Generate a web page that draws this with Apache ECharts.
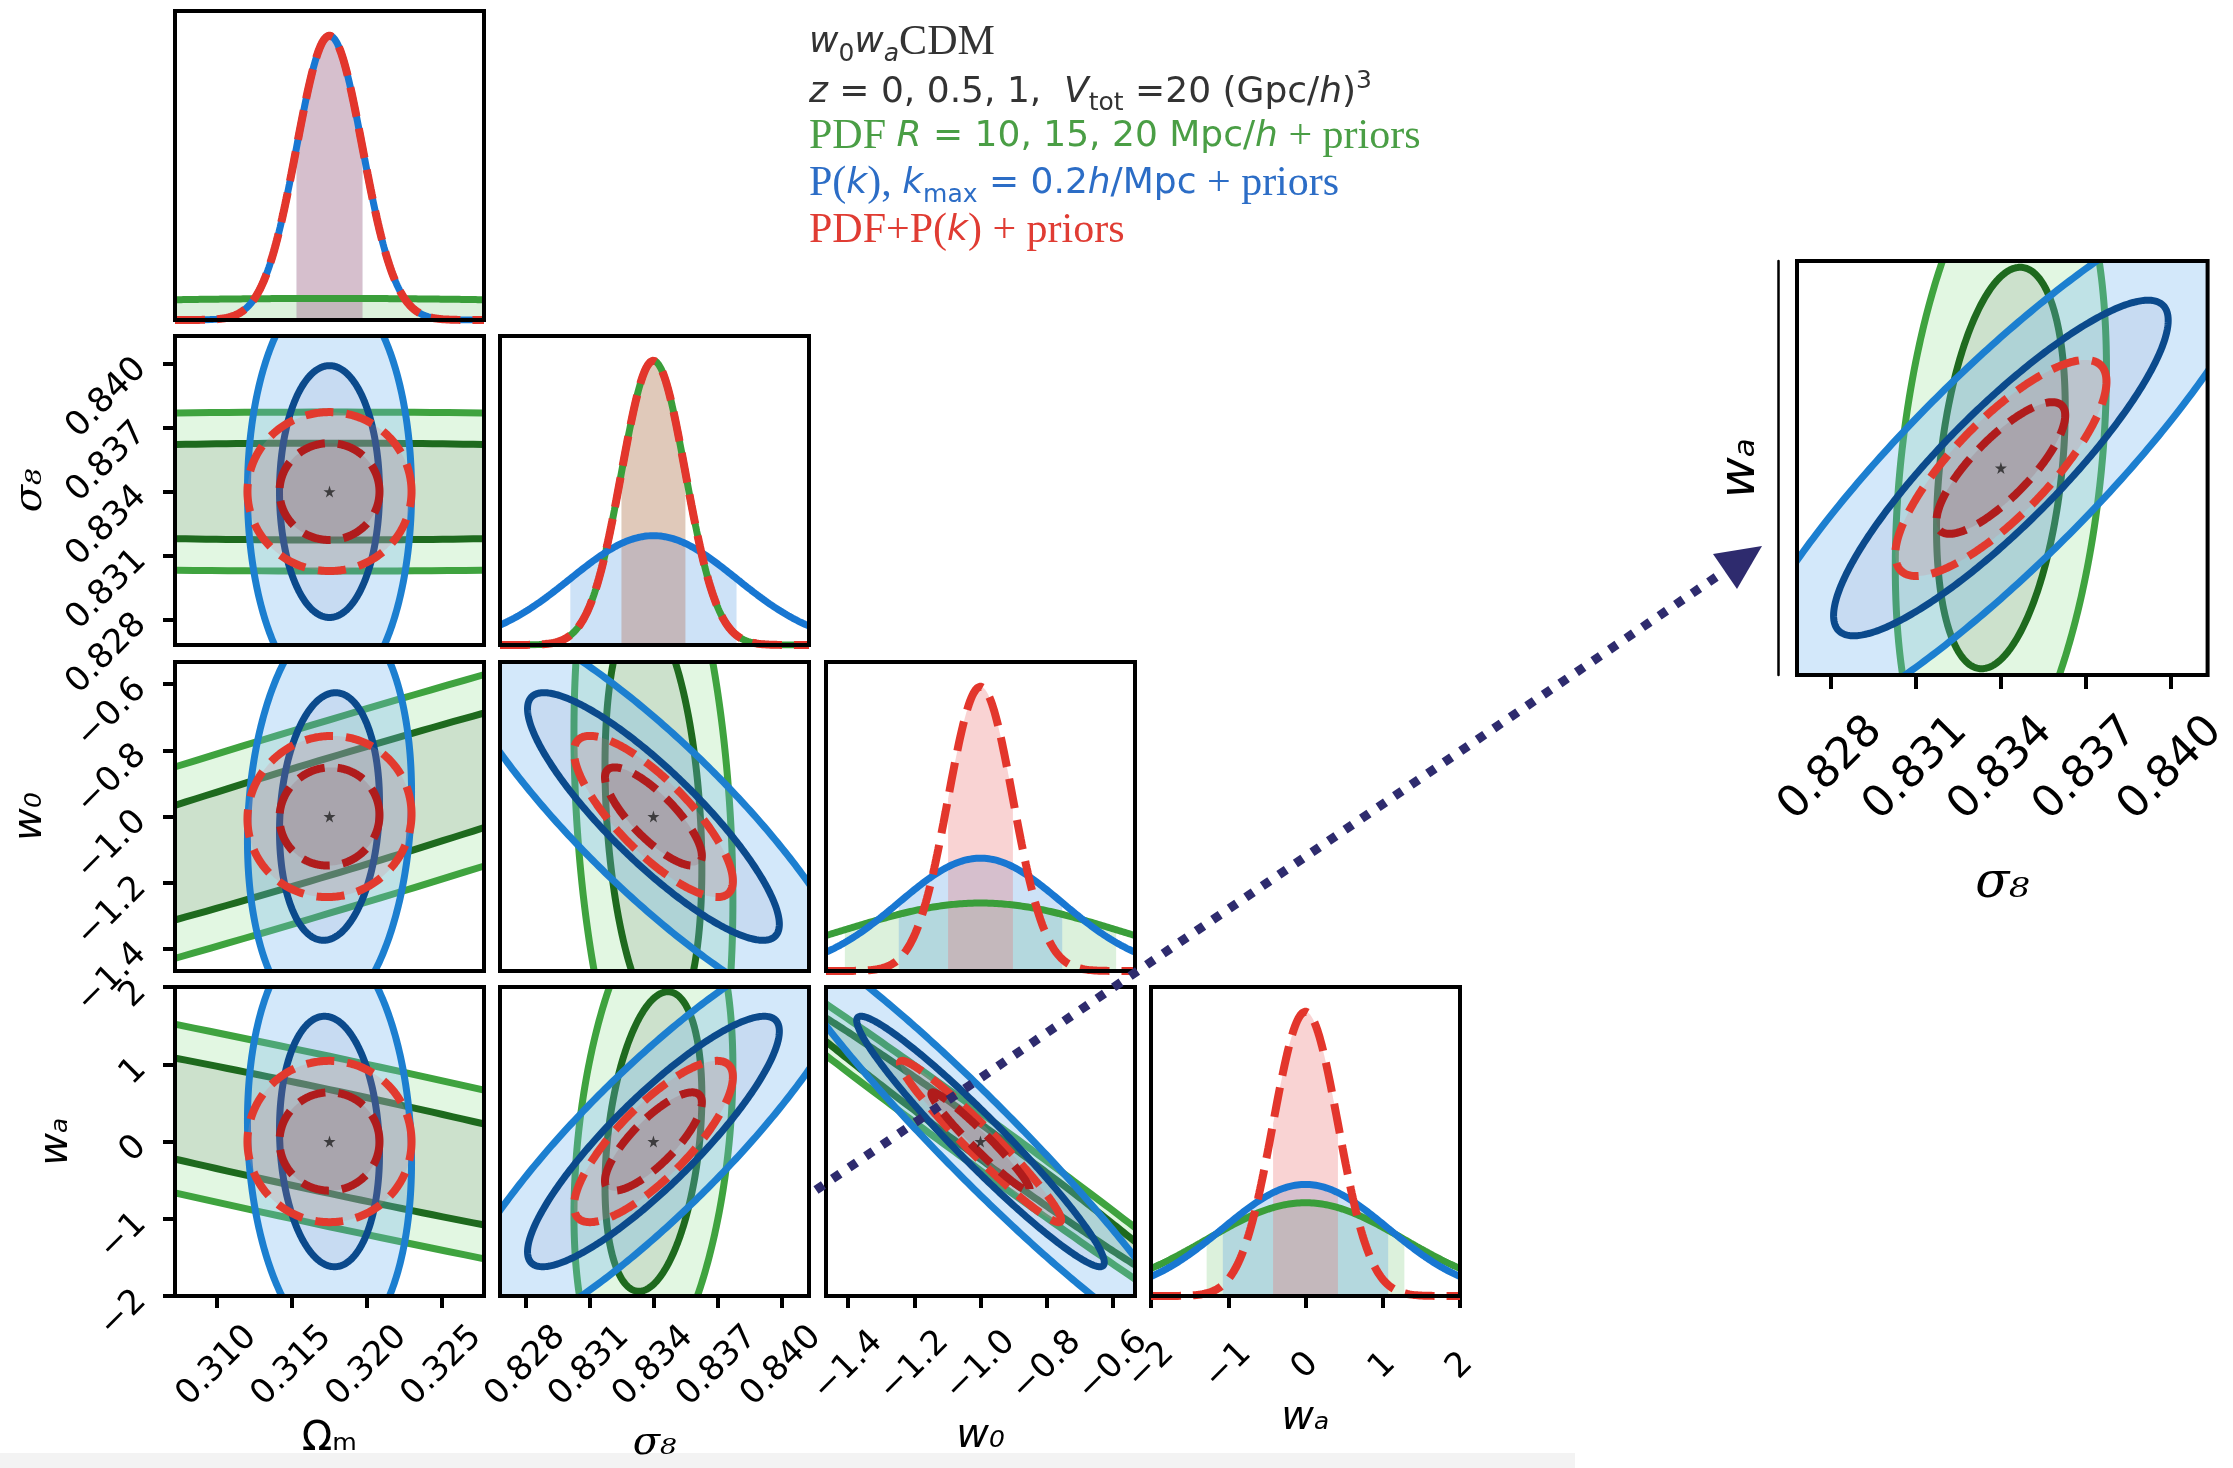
<!DOCTYPE html>
<html><head><meta charset="utf-8">
<script src="https://cdn.jsdelivr.net/npm/echarts@6.0.0/dist/echarts.min.js"></script>
<style>html,body{margin:0;padding:0;background:#fff;}#chart{width:2233px;height:1468px;}</style>
</head><body><div id="chart"></div>
<script>
// ---------------- values ----------------
const paramNames = ['Ωₘ', 'σ₈', 'w₀', 'wₐ'];
const fiducial = [0.3175, 0.834, -1.0, 0.0];
const axisMin = [0.3072, 0.8268, -1.467, -2.0];
const axisMax = [0.3278, 0.8413, -0.533, 2.0];
const ticksOmegaM = [0.310, 0.315, 0.320, 0.325];
const ticksSigma8 = [0.828, 0.831, 0.834, 0.837, 0.840];
const ticksW0 = [-1.4, -1.2, -1.0, -0.8, -0.6];
const ticksWa = [-2, -1, 0, 1, 2];
const tickDecimals = [3, 3, 1, 0];
// marginal 1-sigma errors (Ωm, σ8, w0, wa)
const sigmaPDF  = [0.029, 0.0015, 0.41, 1.28];
const sigmaPk   = [0.0022, 0.0039, 0.247, 1.07];
const sigmaComb = [0.0022, 0.0015, 0.098, 0.42];
// correlations for pairs (Ωm,σ8) (Ωm,w0) (Ωm,wa) (σ8,w0) (σ8,wa) (w0,wa)
const corrPDF  = [0.00, 0.958, -0.938, -0.25, 0.30, -0.993];
const corrPk   = [0.00, 0.12, -0.10, -0.87, 0.88, -0.965];
const corrComb = [0.00, 0.03, 0.00, -0.80, 0.80, -0.97];
const pairs = [[0,1],[0,2],[0,3],[1,2],[1,3],[2,3]];
const contourChi = [2.486, 1.515]; // sqrt(Δχ²) for 95% and 68% (2 params)

// ---------------- styling ----------------
const probes = [
  {sigma: sigmaPDF, corr: corrPDF, lines: ['#3fa33f', '#1e6a1e'], fills: ['rgba(150,225,150,0.28)', 'rgba(70,95,70,0.14)'], width: 7, dash: null, curve: '#3a9e3a', band: 'rgba(140,210,140,0.30)', curveType: 'solid', curveWidth: 7},
  {sigma: sigmaPk, corr: corrPk, lines: ['#1c7fd0', '#0b4a8c'], fills: ['rgba(110,180,240,0.30)', 'rgba(40,60,140,0.07)'], width: 7, dash: null, curve: '#1877d2', band: 'rgba(90,160,230,0.30)', curveType: 'solid', curveWidth: 7},
  {sigma: sigmaComb, corr: corrComb, lines: ['#e23a2e', '#b01c1c'], fills: ['rgba(215,130,140,0.22)', 'rgba(140,60,70,0.16)'], width: 8, dash: [28, 13], curve: '#e3362c', band: 'rgba(235,110,110,0.30)', curveType: [30, 12], curveWidth: 8}
];
const tickSets = [ticksOmegaM, ticksSigma8, ticksW0, ticksWa];
const colLeft = [175, 500, 826, 1151], rowTop = [11, 336, 662, 987], panel = 309;
const xNameGap = [124, 128, 121, 100], yNameGap = [0, 124, 124, 98];
const starPath = 'path://M50,0 L61,35 L98,35 L68,57 L79,91 L50,70 L21,91 L32,57 L2,35 L39,35 Z';

function fmt(v, d) { const s = Math.abs(v).toFixed(d); return (v < -1e-9 ? '\u2212' : '') + s; }
function gauss(x, m, s) { const z = (x - m) / s; return Math.exp(-0.5 * z * z) / (s * Math.sqrt(2 * Math.PI)); }
function ellipse(mx, my, sx, sy, rho, r) {
  const pts = [], c = Math.sqrt(1 - rho * rho), N = 400;
  for (let t = 0; t < N; t++) {
    const a = 2 * Math.PI * t / N, u = Math.cos(a), v = Math.sin(a);
    pts.push([mx + r * sx * u, my + r * sy * (rho * u + c * v)]);
  }
  return pts;
}
function nameStyle(p, size) {
  return {fontSize: size, color: '#000',
    fontFamily: p === 1 ? 'DejaVu Serif' : 'DejaVu Sans',
    fontStyle: p === 0 ? 'normal' : 'italic'};
}
const tickStyle = {length: 12, lineStyle: {width: 4, color: '#000'}};

const grids = [], xAxis = [], yAxis = [], series = [];

function add2D(k, j, i) {
  const pIdx = pairs.findIndex(q => q[0] === j && q[1] === i);
  probes.forEach((p, pi) => {
    series.push({
      type: 'custom', xAxisIndex: k, yAxisIndex: k, coordinateSystem: 'cartesian2d',
      clip: true, silent: true, z: 2 + pi, animation: false,
      data: [[0, 0], [1, 0]],
      renderItem: (params, api) => {
        const lvl = api.value(0);
        const pts = ellipse(fiducial[j], fiducial[i], p.sigma[j], p.sigma[i], p.corr[pIdx], contourChi[lvl]).map(q => api.coord(q));
        const style = {fill: p.fills[lvl], stroke: p.lines[lvl], lineWidth: p.width};
        if (p.dash) style.lineDash = p.dash;
        return {type: 'polygon', shape: {points: pts}, style: style};
      }
    });
  });
  series.push({type: 'scatter', xAxisIndex: k, yAxisIndex: k, data: [[fiducial[j], fiducial[i]]],
    symbol: starPath, symbolSize: 12, itemStyle: {color: '#222'}, z: 10, silent: true, animation: false});
}

let k = 0;
for (let i = 0; i < 4; i++) {
  for (let j = 0; j <= i; j++) {
    grids.push({left: colLeft[j], top: rowTop[i], width: panel, height: panel, show: true,
      borderColor: '#000', borderWidth: 4, backgroundColor: 'transparent', z: 50});
    const bottom = i === 3, leftCol = (j === 0 && i > 0);
    xAxis.push({type: 'value', gridIndex: k, min: axisMin[j], max: axisMax[j], position: 'bottom',
      splitLine: {show: false}, axisLine: {show: false, onZero: false},
      axisTick: Object.assign({show: bottom, customValues: tickSets[j]}, tickStyle),
      axisLabel: {show: bottom, customValues: tickSets[j], rotate: 45, align: 'center', verticalAlign: 'middle',
        margin: 70, fontSize: 34, fontFamily: 'DejaVu Sans', color: '#000', formatter: v => fmt(v, tickDecimals[j])},
      name: bottom ? paramNames[j] : '', nameLocation: 'middle', nameGap: xNameGap[j], nameTextStyle: nameStyle(j, 40)});
    if (i === j) {
      const peaks = probes.map(p => 1 / (p.sigma[i] * Math.sqrt(2 * Math.PI)));
      const ymax = Math.max.apply(null, peaks) * 1.087;
      yAxis.push({type: 'value', gridIndex: k, min: 0, max: ymax, show: false, axisLine: {onZero: false}});
      const xs = [];
      for (let n = 0; n <= 300; n++) xs.push(axisMin[i] + (axisMax[i] - axisMin[i]) * n / 300);
      probes.forEach((p) => {
        const mu = fiducial[i], s = p.sigma[i];
        const lo = Math.max(axisMin[i], mu - s), hi = Math.min(axisMax[i], mu + s);
        const band = [];
        for (let n = 0; n <= 120; n++) { const x = lo + (hi - lo) * n / 120; band.push([x, gauss(x, mu, s)]); }
        series.push({type: 'line', xAxisIndex: k, yAxisIndex: k, data: band, symbol: 'none', silent: true,
          lineStyle: {opacity: 0}, areaStyle: {color: p.band, opacity: 1}, z: 2, animation: false});
      });
      probes.forEach((p, pi) => {
        series.push({type: 'line', xAxisIndex: k, yAxisIndex: k, data: xs.map(x => [x, gauss(x, fiducial[i], p.sigma[i])]),
          symbol: 'none', silent: true, lineStyle: {width: p.curveWidth, color: p.curve, type: p.curveType, cap: 'butt'},
          z: 3 + pi, animation: false});
      });
    } else {
      yAxis.push({type: 'value', gridIndex: k, min: axisMin[i], max: axisMax[i], position: 'left',
        splitLine: {show: false}, axisLine: {show: false, onZero: false},
        axisTick: Object.assign({show: leftCol, customValues: tickSets[i]}, tickStyle),
        axisLabel: {show: leftCol, customValues: tickSets[i], rotate: 45, margin: 34, fontSize: 34,
          fontFamily: 'DejaVu Sans', color: '#000', formatter: v => fmt(v, tickDecimals[i])},
        name: leftCol ? paramNames[i] : '', nameLocation: 'middle', nameGap: yNameGap[i], nameRotate: 90,
        nameTextStyle: nameStyle(i, 40)});
      add2D(k, j, i);
    }
    k++;
  }
}

// zoomed copy of the (σ8, wa) panel
grids.push({left: 1797, top: 261, width: 420, height: 414, show: true, borderColor: '#000', borderWidth: 4,
  backgroundColor: 'transparent', z: 50});
xAxis.push({type: 'value', gridIndex: k, min: axisMin[1], max: axisMax[1], position: 'bottom',
  splitLine: {show: false}, axisLine: {show: false, onZero: false},
  axisTick: {show: true, customValues: ticksSigma8, length: 14, lineStyle: {width: 4, color: '#000'}},
  axisLabel: {show: true, customValues: ticksSigma8, rotate: 45, align: 'center', verticalAlign: 'middle', margin: 94,
    fontSize: 44, fontFamily: 'DejaVu Sans', color: '#000', formatter: v => fmt(v, 3)},
  name: paramNames[1], nameLocation: 'middle', nameGap: 184, nameTextStyle: nameStyle(1, 50)});
yAxis.push({type: 'value', gridIndex: k, min: axisMin[3], max: axisMax[3], splitLine: {show: false}, position: 'left',
  offset: 19, axisLine: {show: true, onZero: false, lineStyle: {width: 2.5, color: '#000'}},
  axisTick: {show: false}, axisLabel: {show: false},
  name: paramNames[3], nameLocation: 'middle', nameGap: 12, nameRotate: 90, nameTextStyle: nameStyle(3, 50)});
add2D(k, 1, 3);

// ---------------- legend text ----------------
const rich = {
  rm: {fontFamily: 'Liberation Serif', fontSize: 42, lineHeight: 47},
  sf: {fontFamily: 'DejaVu Sans', fontSize: 36, lineHeight: 47},
  it: {fontFamily: 'DejaVu Sans', fontSize: 36, fontStyle: 'italic', lineHeight: 47},
  sub: {fontFamily: 'DejaVu Sans', fontSize: 25, lineHeight: 26, verticalAlign: 'bottom'},
  subit: {fontFamily: 'DejaVu Sans', fontSize: 25, fontStyle: 'italic', lineHeight: 26, verticalAlign: 'bottom'},
  sup: {fontFamily: 'DejaVu Sans', fontSize: 25, lineHeight: 26, verticalAlign: 'top'}
};
const legendLines = [
  {text: '{it|w}{sub|0}{it|w}{subit|a}{rm|CDM}', color: '#333333'},
  {text: '{it|z}{sf| = 0, 0.5, 1,  }{it|V}{sub|tot}{sf| =20 (Gpc/}{it|h}{sf|)}{sup|3}', color: '#333333'},
  {text: '{rm|PDF }{it|R}{sf| = 10, 15, 20 Mpc/}{it|h}{rm| + priors}', color: '#4a9e45'},
  {text: '{rm|P(}{it|k}{rm|), }{it|k}{sub|max}{sf| = 0.2}{it|h}{sf|/Mpc}{rm| + priors}', color: '#2c6dc6'},
  {text: '{rm|PDF+P(}{it|k}{rm|) + priors}', color: '#e03c33'}
];
const graphics = legendLines.map((l, n) => ({
  type: 'text', left: 809, top: 22 + n * 47, z: 100,
  style: {text: l.text, rich: rich, fill: l.color, verticalAlign: 'top'}
}));
// dotted arrow from the (w0, wa) panel to the zoomed panel
graphics.push({type: 'polyline', z: 200, silent: true,
  shape: {points: [[816, 1190], [1725, 571]]},
  style: {stroke: '#2e2b6e', lineWidth: 9, lineDash: [9, 11], lineCap: 'butt', fill: null}});
graphics.push({type: 'polygon', z: 200, silent: true,
  shape: {points: [[1762, 546], [1713, 554], [1737, 589]]}, style: {fill: '#2e2b6e'}});
graphics.push({type: 'rect', z: -1, silent: true, shape: {x: 0, y: 1453, width: 1575, height: 15}, style: {fill: '#f3f3f3'}});

const chart = echarts.init(document.getElementById('chart'), null, {renderer: 'canvas', width: 2233, height: 1468});
chart.setOption({
  animation: false,
  backgroundColor: '#ffffff',
  grid: grids, xAxis: xAxis, yAxis: yAxis, series: series, graphic: graphics
});
</script>
</body></html>
